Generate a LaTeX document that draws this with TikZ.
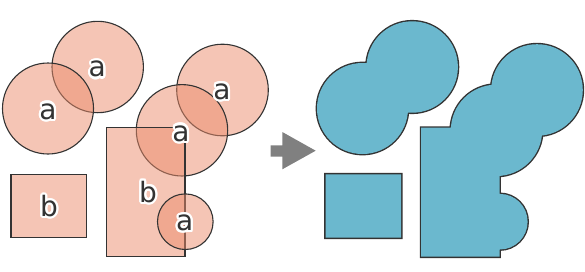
\documentclass[tikz,border=0pt]{standalone}
\usepackage{fontspec}
\setmainfont{DejaVu Sans}
\usetikzlibrary{calc}
\definecolor{salmon}{HTML}{EB8C6B}
\definecolor{tealblue}{HTML}{6BB8CE}
\definecolor{ink}{HTML}{333333}
\definecolor{arrowgray}{HTML}{808080}
\tikzset{
  shapeA/.style={fill=salmon, fill opacity=0.5, draw=ink, line width=1.1pt},
  unionedge/.style={draw=ink, line width=2.8pt},
  unionfill/.style={fill=tealblue},
  lbl/.style={font=\fontsize{28}{28}\selectfont, text=ink, inner sep=0pt},
  halo/.style={lbl, text=white},
}
\newcommand\halolabel[3]{%
  \foreach \hang in {0,20,...,340} \node[halo] at ($(#2)+(\hang:2.2pt)$) {#3};
  \node[lbl] (#1) at (#2) {#3};
}
\newcommand\unionshapes{%
  (97.7,67) circle (45.7pt)
  (48,108.5) circle (45.5pt)
  (222.5,90) circle (45.8pt)
  (182,130.3) circle (45.7pt)
  (185.3,221.7) circle (27.8pt)
  (106.7,127.7) rectangle (185,256.7)
  (11,174.3) rectangle (86.7,237.7)
}
\begin{document}
\begin{tikzpicture}[x=1pt,y=-1pt]
\useasboundingbox (0,0) rectangle (585,271);
% left: overlapping shapes
\path[shapeA] (97.7,67) circle (45.7pt);
\path[shapeA] (48,108.5) circle (45.5pt);
\path[shapeA] (222.5,90) circle (45.8pt);
\path[shapeA] (182,130.3) circle (45.7pt);
\path[shapeA] (106.7,127.7) rectangle (185,256.7);
\path[shapeA] (185.3,221.7) circle (27.8pt);
\path[shapeA] (11,174.3) rectangle (86.7,237.7);
% labels
\halolabel{la1}{48,111.5}{a}
\halolabel{la2}{97.3,69.3}{a}
\halolabel{la3}{222,91.7}{a}
\halolabel{la4}{181,133.5}{a}
\halolabel{la5}{184.7,223}{a}
\halolabel{lb1}{49,206}{b}
\halolabel{lb2}{148,191.8}{b}
% arrow
\fill[arrowgray] (270.7,145.3) -- (282.3,145.3) -- (282.3,132) -- (315.7,150.7)
  -- (282.3,169.3) -- (282.3,156.7) -- (270.7,156.7) -- cycle;
% right: union
\begin{scope}[xshift=314.5pt]
  \path[unionedge] \unionshapes;
  \path[unionfill] \unionshapes;
\end{scope}
\end{tikzpicture}
\end{document}
